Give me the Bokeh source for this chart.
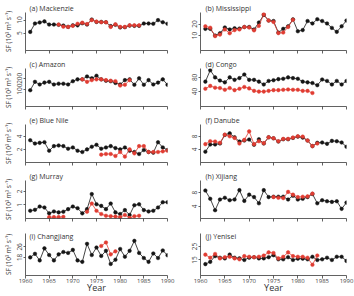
from bokeh.plotting import figure
from bokeh.layouts import column, row
from bokeh.models import FixedTicker, Label
from bokeh.embed import file_html
from bokeh.resources import INLINE

years = list(range(1961, 1991))
x_ticks = [1960, 1965, 1970, 1975, 1980, 1985, 1990]

mackenzie_obs = [5.5, 8.7, 9.1, 9.5, 8.3, 8.3, 8.2, 7.9, 7.4, 8.0, 8.0, 8.8, 8.3, 10.2, 9.3,
                 9.3, 9.2, 7.7, 8.2, 7.2, 7.3, 7.9, 7.8, 7.8, 8.7, 8.7, 8.6, 10.0, 9.2, 8.6]
mackenzie_sim_years = list(range(1967, 1985))
mackenzie_sim = [8.3, 7.5, 7.4, 7.8, 8.6, 9.0, 8.5, 10.0, 9.4, 9.2, 9.2, 7.4, 8.4, 7.4, 7.4, 8.0, 8.0, 8.0]

mississippi_obs = [15.8, 15.8, 10.0, 12.0, 17.0, 15.3, 16.3, 16.0, 17.4, 17.4, 15.3, 21.3, 27.9, 23.0, 22.6,
                   12.6, 15.8, 18.0, 24.0, 13.7, 14.7, 22.6, 20.5, 24.2, 22.6, 20.5, 16.6, 13.2, 18.0, 23.0]
mississippi_sim_years = list(range(1961, 1980))
mississippi_sim = [18.0, 16.8, 9.5, 10.8, 15.3, 12.0, 14.7, 15.3, 17.4, 17.0, 14.5, 18.4, 28.4, 23.0, 21.8,
                   12.1, 12.6, 17.4, 23.7]

amazon_obs = [90, 167, 143, 160, 167, 143, 150, 150, 143, 173, 190, 190, 217, 200, 223,
              190, 177, 173, 157, 143, 183, 190, 140, 200, 140, 183, 143, 160, 190, 140]
amazon_sim_years = list(range(1972, 1983))
amazon_sim = [190, 167, 183, 190, 190, 183, 177, 173, 133, 140, 183]

congo_obs = [68, 100, 80, 71, 66, 80, 73, 78, 88, 73, 73, 68, 60, 70, 72,
             75, 76, 80, 78, 76, 68, 66, 64, 58, 74, 70, 60, 70, 60, 70]
congo_sim_years = list(range(1961, 1984))
congo_sim = [48, 56, 51, 50, 45, 50, 44, 48, 53, 49, 42, 40, 40, 42, 44,
             44, 45, 46, 45, 45, 42, 42, 36]

bluenile_obs = [3.4, 2.9, 3.0, 3.1, 1.8, 2.5, 2.6, 2.5, 2.1, 2.3, 1.8, 1.6, 2.0, 2.4, 2.7,
                2.1, 2.3, 2.5, 2.2, 2.0, 2.3, 1.8, 1.6, 1.3, 1.9, 1.6, 1.5, 3.1, 2.3, 1.9]
bluenile_sim_years = list(range(1976, 1991))
bluenile_sim = [1.2, 1.3, 1.3, 1.0, 1.6, 0.9, 2.0, 1.4, 2.5, 2.5, 1.6, 1.6, 1.6, 1.7, 1.8]

danube_obs = [3.3, 5.5, 5.5, 5.8, 8.4, 8.9, 7.7, 6.4, 6.7, 7.0, 5.4, 7.1, 5.8, 7.7, 7.4,
              6.4, 7.1, 7.1, 7.5, 7.9, 7.6, 6.7, 5.0, 6.0, 6.1, 5.7, 6.6, 6.5, 6.1, 4.8]
danube_sim_years = list(range(1961, 1985))
danube_sim = [5.6, 6.5, 6.4, 6.0, 8.5, 8.0, 7.5, 5.8, 6.9, 9.5, 5.6, 6.5, 5.9, 7.7, 7.4,
              6.5, 7.2, 7.2, 7.6, 8.0, 7.9, 6.7, 5.0, 5.8]

murray_obs = [0.57, 0.64, 0.88, 0.81, 0.38, 0.52, 0.45, 0.50, 0.69, 0.88, 0.76, 0.38, 0.69, 1.80, 1.05,
              0.93, 0.69, 1.10, 0.45, 0.33, 0.62, 0.26, 0.98, 1.05, 0.62, 0.52, 0.57, 0.81, 1.20, 1.20]
murray_sim_years = list(range(1965, 1985))
murray_sim = [0.10, 0.10, 0.10, 0.12, float("nan"), float("nan"), float("nan"), float("nan"), 0.50, 1.10,
              0.57, 0.33, 0.20, 0.17, 0.14, 0.10, 0.26, 0.05, 0.17, 0.20]

xijiang_obs = [8.6, 6.2, 2.9, 6.0, 6.5, 5.8, 6.0, 8.7, 5.6, 7.4, 6.7, 4.9, 8.7, 6.7, 6.8,
               6.8, 6.8, 6.0, 7.1, 6.0, 6.2, 6.7, 7.6, 4.9, 5.8, 5.5, 5.3, 5.5, 3.3, 5.1]
xijiang_sim_years = list(range(1975, 1984))
xijiang_sim = [6.7, 6.5, 6.4, 8.2, 7.4, 6.7, 6.8, 6.9, 7.7]

changjiang_obs = [18.0, 20.7, 15.7, 24.9, 19.8, 15.7, 20.3, 22.1, 21.4, 23.7, 15.7, 14.6, 28.3, 19.8, 25.5,
                  19.1, 23.0, 13.0, 16.2, 24.4, 18.5, 23.0, 30.6, 21.4, 17.5, 14.6, 21.0, 17.5, 23.3, 19.6]
changjiang_sim_years = list(range(1976, 1980))
changjiang_sim = [26.7, 29.4, 20.3, 22.6]

yenisei_obs = [11.9, 13.6, 17.9, 16.7, 16.2, 19.0, 16.7, 16.2, 15.0, 16.7, 17.1, 16.2, 16.2, 17.1, 18.6,
               15.5, 15.5, 17.1, 15.0, 16.0, 16.0, 15.5, 17.4, 15.0, 15.5, 16.7, 15.0, 17.4, 17.4, 14.3]
yenisei_sim_years = list(range(1961, 1985))
yenisei_sim = [19.0, 16.7, 19.5, 16.2, 17.1, 17.4, 16.2, 15.5, 17.9, 17.4, 17.1, 17.4, 18.3, 20.7, 20.2,
               16.2, 17.4, 20.7, 17.9, 17.4, 17.4, 16.7, 11.4, 18.3]

titles = ["(a) Mackenzie", "(b) Mississippi", "(c) Amazon", "(d) Congo", "(e) Blue Nile",
          "(f) Danube", "(g) Murray", "(h) Xijiang", "(i) Changjiang", "(j) Yenisei"]
y_ticks = [[5, 10], [10, 20], [100, 200], [40, 80], [2, 4], [4, 8], [1, 2], [4, 8], [18, 26], [15, 25]]

obs_series = [mackenzie_obs, mississippi_obs, amazon_obs, congo_obs, bluenile_obs,
              danube_obs, murray_obs, xijiang_obs, changjiang_obs, yenisei_obs]
sim_years = [mackenzie_sim_years, mississippi_sim_years, amazon_sim_years, congo_sim_years, bluenile_sim_years,
             danube_sim_years, murray_sim_years, xijiang_sim_years, changjiang_sim_years, yenisei_sim_years]
sim_series = [mackenzie_sim, mississippi_sim, amazon_sim, congo_sim, bluenile_sim,
              danube_sim, murray_sim, xijiang_sim, changjiang_sim, yenisei_sim]
y_ranges = [(-1.6, 12.9), (-3, 30), (-60, 290), (-2, 105), (0, 5.8),
            (0, 11.6), (0, 2.8), (0.5, 11.5), (4.2, 36.2), (3.4, 34.8)]

FONT = "Open Sans"
BLACK = "#151515"
RED = "#e03c32"
AX = "#3a3a3a"


def make_panel(i):
    left = (i % 2 == 0)
    bottom = (i >= 8)
    p = figure(width=177, height=72 if bottom else 56,
               x_range=(1960, 1990), y_range=y_ranges[i],
               output_backend="svg", toolbar_location=None,
               min_border_left=22 if left else 23,
               min_border_right=10 if left else 8,
               min_border_top=9 if bottom else 12,
               min_border_bottom=18 if bottom else 6,
               title=None if bottom else titles[i])
    p.outline_line_color = None
    p.grid.visible = False
    p.background_fill_color = "white"
    p.border_fill_color = "white"

    if not bottom:
        t = p.title
        t.text_font = FONT
        t.text_font_size = "7px"
        t.text_font_style = "normal"
        t.text_color = "#333333"
        t.align = "left"
        t.offset = 4 if left else 5
        t.standoff = 0

    xa = p.xaxis[0]
    xa.ticker = FixedTicker(ticks=x_ticks)
    xa.axis_line_color = AX
    xa.axis_line_width = 0.8
    xa.major_tick_line_color = AX
    xa.major_tick_line_width = 0.8
    xa.major_tick_in = 0
    xa.major_tick_out = 3
    xa.minor_tick_line_color = None
    xa.major_label_standoff = 0
    if bottom:
        xa.major_label_text_font = FONT
        xa.major_label_text_font_size = "6px"
        xa.major_label_text_color = "#444444"
        xa.axis_label = "Year"
        xa.axis_label_text_font = FONT
        xa.axis_label_text_font_size = "9px"
        xa.axis_label_text_font_style = "normal"
        xa.axis_label_text_color = "#333333"
        xa.axis_label_standoff = -5
    else:
        xa.major_label_overrides = {t: "" for t in x_ticks}
        xa.major_label_text_font_size = "1px"

    ya = p.yaxis[0]
    ya.ticker = FixedTicker(ticks=y_ticks[i])
    ya.axis_line_color = AX
    ya.axis_line_width = 0.8
    ya.major_tick_line_color = AX
    ya.major_tick_line_width = 0.8
    ya.major_tick_in = 0
    ya.major_tick_out = 2
    ya.minor_tick_line_color = None
    ya.major_label_orientation = "vertical"
    ya.major_label_text_font = FONT
    ya.major_label_text_font_size = "6.5px"
    ya.major_label_text_color = "#444444"
    ya.major_label_standoff = 1
    if left:
        ya.axis_label = "SF (10\u00b3 m\u00b3 s\u207b\u00b9)"
        ya.axis_label_text_font = FONT
        ya.axis_label_text_font_size = "6.5px"
        ya.axis_label_text_font_style = "normal"
        ya.axis_label_text_color = "#333333"
        ya.axis_label_standoff = 2

    p.line(years, obs_series[i], line_color=BLACK, line_width=0.8)
    p.scatter(years, obs_series[i], size=3.6, fill_color=BLACK, line_color=BLACK, line_width=0.5)
    p.line(sim_years[i], sim_series[i], line_color=RED, line_width=0.8)
    p.scatter(sim_years[i], sim_series[i], size=3.6, fill_color=RED, line_color=RED, line_width=0.5)

    if bottom:
        p.add_layout(Label(x=1960, y=y_ranges[i][1], x_offset=4 if left else 5, y_offset=-3,
                           text=titles[i], text_font=FONT, text_font_size="7px",
                           text_color="#333333", text_baseline="middle", text_align="left"))
    return p


panels = [make_panel(i) for i in range(10)]
layout = column(*[row(panels[2 * r], panels[2 * r + 1]) for r in range(5)])

open("out.html", "w").write(file_html(layout, INLINE))
